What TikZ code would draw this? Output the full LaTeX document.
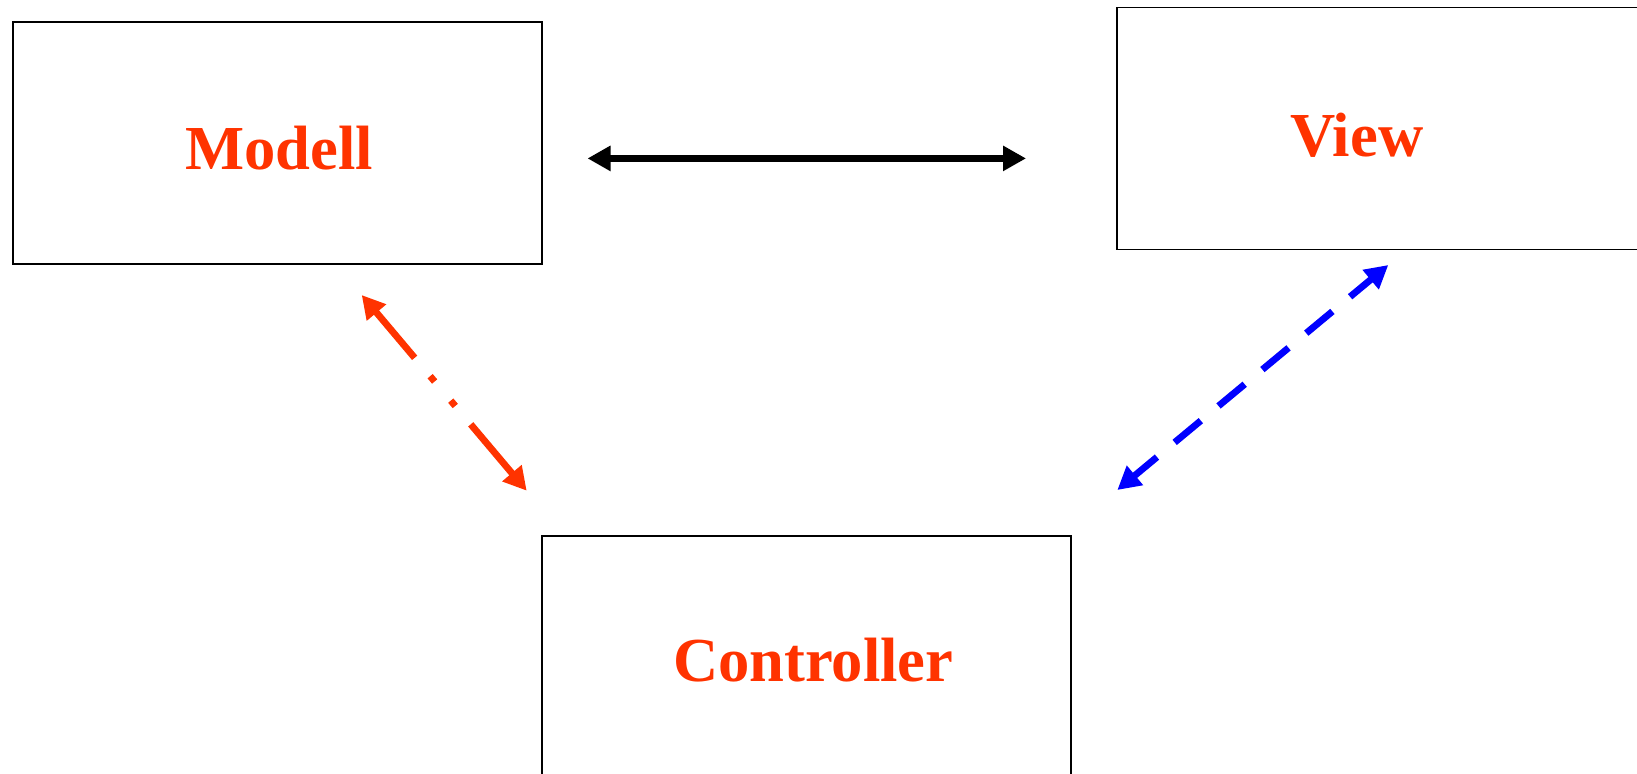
\documentclass[tikz,border=0pt]{standalone}
\usepackage{fontspec}
\setmainfont{Liberation Serif}
\usetikzlibrary{arrows.meta}
\definecolor{mvcred}{RGB}{255,51,0}
\definecolor{mvcblue}{RGB}{0,0,255}
\tikzset{
  mvcbox/.style={draw, line width=0.9pt, minimum width=264.5pt, minimum height=121pt, inner sep=0pt},
  mvclabel/.style={anchor=base, text=mvcred, inner sep=0pt, font=\fontsize{31.3}{31.3}\selectfont\bfseries},
  mvcarrow/.style={line width=3.4pt, {Triangle[length=11.5pt,width=12pt]}-{Triangle[length=11.5pt,width=12pt]}}
}

\begin{document}
\begin{tikzpicture}[x=0.5pt,y=0.5pt,yscale=-1,xscale=1]
\useasboundingbox (0,0) rectangle (1637,773);

%Shape: Rectangle [Modell]
\node [mvcbox] (modell) at (277.25,143) {};
%Shape: Rectangle [View]
\node [mvcbox] (view) at (1381.75,128.4) {};
%Shape: Rectangle [Controller]
\node [mvcbox] (controller) at (806.75,656.6) {};

% Text Node
\node [mvclabel] (modelltext) at (279,169) {Modell};
% Text Node
\node [mvclabel] (viewtext) at (1356.7,156) {View};
% Text Node
\node [mvclabel] (controllertext) at (813.3,681.7) {Controller};

%Arrow ends
\coordinate (mvleft) at (587.5,158.4);
\coordinate (mvright) at (1026,158.4);
\coordinate (mcup) at (361.7,295);
\coordinate (mcdown) at (526.7,490.7);
\coordinate (vcdown) at (1117.3,490);
\coordinate (vcup) at (1388.3,265);

%Straight Lines [Modell - View]
\draw [mvcarrow, black] (mvleft) -- (mvright);
%Straight Lines [Modell - Controller]
\draw [mvcarrow, mvcred, dash pattern={on 30.3pt off 12pt on 3.5pt off 12.5pt on 3.5pt off 12pt on 40pt}] (mcup) -- (mcdown);
%Straight Lines [Controller - View]
\draw [mvcarrow, mvcblue, dash pattern={on 17pt off 11.5pt}, dash phase=2pt] (vcdown) -- (vcup);

\end{tikzpicture}
\end{document}
